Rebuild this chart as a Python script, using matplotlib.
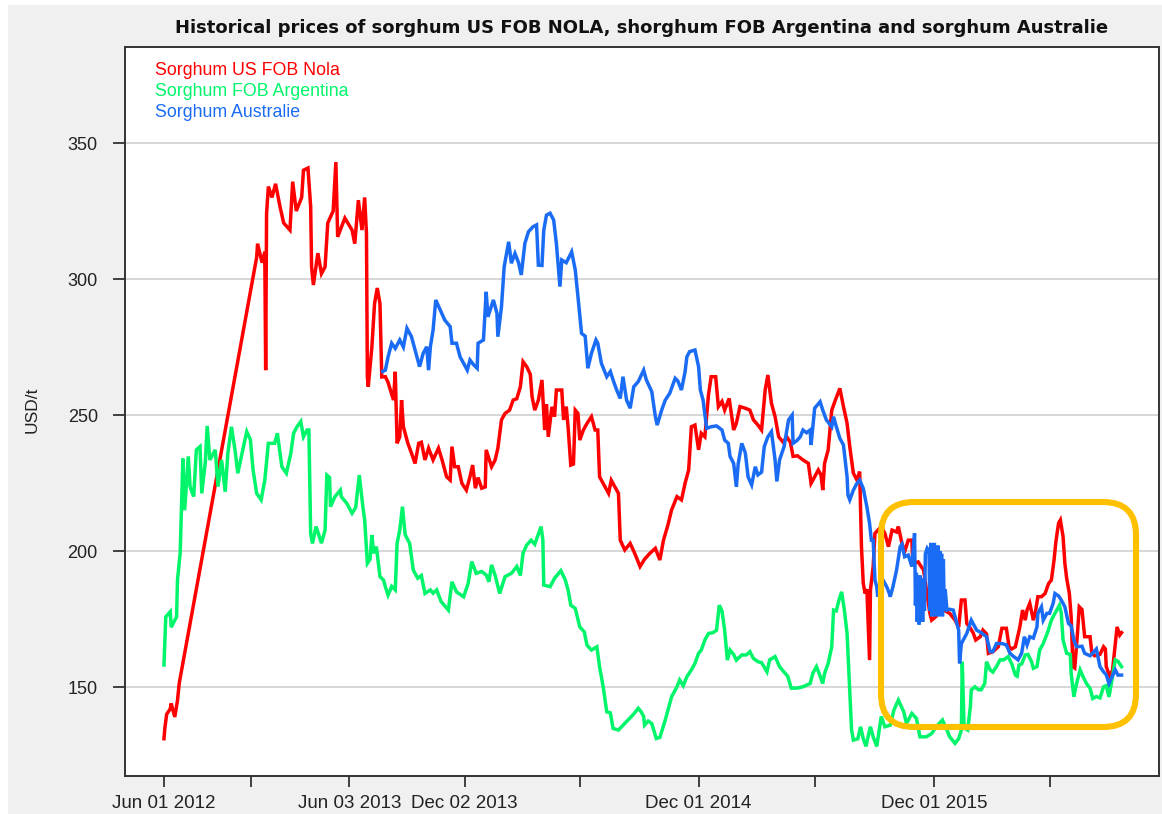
import matplotlib
matplotlib.use('Agg')
import matplotlib.pyplot as plt
from matplotlib.patches import FancyBboxPatch, Rectangle
from matplotlib.transforms import IdentityTransform

# x is the observation number of the series (xts style index axis), y in USD/t
red_points = [
    (0, 131), (1, 135), (3, 140), (7, 142), (8, 144), (12, 139), (15, 145), (17, 151.5),
    (103, 308), (104, 313), (109, 306), (112, 310), (113, 266.5), (114, 324), (116, 334),
    (120, 330), (124, 335), (129, 326.5), (133, 320.6), (140, 318), (143, 335.8), (147, 325),
    (153, 330), (155, 340), (160, 340.8), (163, 326.6), (164, 304.5), (166, 297.8), (171, 309.5),
    (175, 302), (179, 304.5), (182, 320.6), (188, 325), (191, 343), (193, 315.5), (197, 319),
    (201, 322.4), (209, 318), (212, 313), (216, 329), (220, 318), (223, 330), (225, 316.8),
    (226, 264), (227, 260.4), (231, 275), (234, 291), (237, 296.7), (240, 291), (242, 264),
    (246, 264.1), (249, 262), (255, 255.5), (257, 265.9), (259, 239.6), (262, 242), (264, 255.5),
    (266, 245.7), (271, 239.6), (275, 236), (279, 232.2), (283, 239.6), (286, 240), (290, 233.5),
    (294, 237.8), (299, 233.5), (305, 237.8), (309, 233.5), (314, 227.3), (318, 226.1),
    (320, 238.4), (323, 231), (327, 231), (331, 224.9), (336, 222.4), (340, 227.3), (343, 231.6),
    (346, 223.1), (349, 227), (353, 223.1), (357, 223.6), (358, 237.2), (364, 231), (368, 233.5),
    (371, 237.8), (375, 248.2), (379, 250.6), (384, 251.8), (388, 255.5), (392, 256), (396, 260.4),
    (399, 269.6), (403, 267.8), (407, 265), (409, 256.7), (412, 251.8), (416, 255.5), (420, 262.9),
    (423, 244.5), (425, 254), (427, 242), (431, 253), (434, 249.4), (436, 259.2), (442, 259.2),
    (444, 248.2), (447, 253.1), (449, 245.7), (452, 231.6), (455, 232), (457, 251.8), (460, 250.6),
    (462, 240.8), (466, 244.5), (470, 246.9), (475, 249.4), (479, 244.5), (482, 244.5),
    (484, 227.3), (490, 223.6), (494, 221.2), (497, 226), (501, 223.6), (505, 221.2), (507, 204),
    (512, 200.4), (518, 202.8), (523, 199.2), (529, 194.3), (534, 197), (540, 199.2), (546, 201),
    (551, 196.7), (555, 204), (560, 209.6), (564, 215.1), (570, 220), (575, 218.8), (579, 224.9),
    (583, 229.8), (586, 245.7), (590, 246.3), (594, 237.2), (597, 243.3), (601, 242), (605, 257.4),
    (608, 264.1), (613, 264.1), (616, 253.1), (620, 255), (623, 251.8), (628, 256.1), (633, 244.5),
    (636, 247), (640, 253.1), (646, 252.5), (651, 251.8), (655, 248.2), (660, 246.3), (664, 244.5),
    (668, 259.2), (671, 264.7), (675, 254.3), (679, 249.4), (683, 242), (688, 240), (692, 242),
    (696, 240), (699, 234.8), (704, 235), (710, 233.5), (716, 232.2), (719, 224.9), (723, 227.3),
    (727, 229.8), (730, 228), (732, 222.4), (734, 232.2), (738, 237.2), (742, 251.8), (746, 255.5),
    (751, 259.8), (755, 253.1), (759, 247), (762, 238.4), (766, 228.6), (770, 226.1), (773, 229.2),
    (775, 201.6), (777, 188.1), (779, 184.4), (781, 186), (784, 159.9), (785, 185.7), (788, 194.3),
    (790, 206.5), (797, 209), (801, 206.5), (805, 201.6), (809, 207.7), (814, 207), (816, 209),
    (820, 202.8), (823, 199.8), (827, 204), (831, 204), (832, 195.5), (838, 196), (844, 193),
    (851, 177.1), (853, 174.6), (858, 176), (862, 179.5), (868, 178), (873, 177.1), (879, 174.6),
    (883, 172), (886, 182), (890, 182), (892, 173.4), (896, 171.6), (899, 170), (902, 167.3),
    (907, 168.5), (910, 170.9), (914, 169.5), (916, 162.4), (921, 163), (927, 164.8), (931, 171.6),
    (936, 171.6), (939, 164.8), (942, 164), (946, 164.8), (951, 172.1), (954, 178.3), (957, 174.6),
    (959, 178.3), (962, 180.8), (966, 174.6), (968, 177), (971, 183.2), (975, 183.2), (979, 184.4),
    (983, 188.1), (986, 189.3), (989, 196.7), (991, 203.4), (994, 210.2), (996, 211.4),
    (999, 205.3), (1001, 195.5), (1003, 190), (1006, 184.4), (1008, 175.8), (1010, 157.5),
    (1012, 157), (1015, 169.7), (1017, 179.5), (1020, 178.5), (1023, 168.5), (1029, 168.5),
    (1031, 162.4), (1034, 161.5), (1040, 162), (1044, 164.8), (1046, 164), (1047, 157.5),
    (1051, 153.8), (1054, 156.3), (1057, 166), (1059, 172.1), (1062, 169.1), (1064, 170),
]

green_points = [
    (0, 158.1), (1, 167.3), (2, 175.8), (7, 177.7), (8, 172), (14, 175.8), (15, 189.3), (18, 199.3),
    (21, 234), (23, 215), (27, 234.8), (29, 223.7), (33, 220), (36, 237.2), (40, 238.4), (42, 221.2),
    (46, 232.8), (48, 246), (51, 233.5), (57, 237.2), (60, 223.7), (64, 233.5), (68, 221.8),
    (71, 236), (75, 245.7), (79, 237), (82, 228.6), (86, 234.8), (92, 243.9), (96, 241),
    (99, 229.8), (103, 221.2), (108, 218.8), (112, 226), (116, 239.6), (123, 239.6), (126, 243.3),
    (131, 231), (136, 228.6), (141, 236), (144, 243.3), (148, 245.8), (152, 247.6), (155, 242),
    (159, 244.5), (161, 244.5), (163, 206.5), (165, 202.8), (169, 209), (175, 202.9), (179, 207.7),
    (181, 227.9), (184, 227), (185, 216.3), (190, 220), (196, 222.4), (197, 220), (203, 217.6),
    (209, 213.9), (213, 216), (217, 227.9), (221, 216.3), (223, 211.4), (226, 195.5), (229, 197),
    (231, 205.9), (233, 199.2), (236, 201.6), (240, 190.6), (244, 189.3), (246, 186.9),
    (249, 183.8), (253, 187), (257, 185.7), (259, 202.8), (262, 207.7), (265, 216.3), (268, 206),
    (273, 202.8), (277, 193), (282, 190), (286, 191), (290, 184.4), (296, 185.7), (299, 184.5),
    (303, 185.7), (308, 181.4), (316, 178.3), (320, 188.7), (325, 185), (333, 183.2), (338, 188.1),
    (342, 196.1), (347, 191.8), (353, 192.5), (358, 191.2), (361, 188.7), (364, 194.9), (368, 191),
    (373, 184.4), (379, 190.6), (386, 191.8), (392, 194.3), (396, 191), (399, 199.2), (403, 202.2),
    (408, 204), (412, 202.5), (419, 209), (421, 204), (422, 187.5), (429, 186.9), (434, 190),
    (441, 192.8), (446, 189.3), (449, 185.7), (452, 180.1), (457, 178.9), (462, 172.1),
    (467, 170.3), (470, 165.4), (475, 163.6), (481, 164.8), (484, 157.5), (488, 150.1),
    (492, 140.9), (496, 140.5), (499, 134.8), (505, 134.2), (514, 137.3), (522, 140.1),
    (527, 142.2), (530, 141), (533, 139.2), (534, 136), (538, 137.5), (542, 136.6), (547, 131.1),
    (551, 131.5), (557, 137.9), (560, 141.5), (564, 146.4), (570, 150.1), (573, 152.6),
    (577, 150.5), (581, 153.8), (586, 156.3), (590, 158.7), (594, 162.4), (597, 163.6),
    (601, 167.3), (605, 169.7), (610, 170), (614, 170.9), (617, 180.1), (620, 178), (623, 170.9),
    (626, 159.9), (629, 163.6), (633, 162), (636, 159.9), (642, 161.8), (647, 161.8), (651, 163),
    (655, 160.5), (660, 159.3), (664, 159), (670, 155.6), (673, 160), (679, 161.2), (684, 157.5),
    (690, 155.1), (693, 154), (697, 149.6), (703, 149.6), (710, 150.1), (718, 151.3), (721, 155.1),
    (725, 157.5), (728, 155), (732, 151.3), (734, 155), (738, 158.7), (742, 164.8), (744, 178.3),
    (747, 178), (750, 182), (753, 185), (756, 178.3), (759, 169.7), (762, 148.9), (764, 134.2),
    (766, 130.5), (771, 131), (774, 135.4), (777, 131), (780, 128.2), (784, 134.2), (785, 135.4),
    (788, 131.7), (792, 128.2), (797, 139.2), (801, 135.4), (807, 136), (811, 141.5), (816, 145.2),
    (822, 140.9), (825, 136.6), (831, 140.3), (836, 138.5), (840, 131.7), (847, 131.7),
    (853, 132.9), (858, 135.4), (865, 137.9), (870, 134.2), (873, 131.7), (879, 129.3), (883, 131),
    (886, 134.2), (887, 159.3), (889, 135), (893, 134.2), (896, 142.8), (897, 148.9), (901, 150.1),
    (905, 149), (908, 149), (912, 151.3), (914, 159.3), (918, 156.3), (921, 155.5), (925, 157.5),
    (929, 160), (933, 160), (938, 161.2), (942, 158.5), (946, 154.4), (948, 154), (950, 158.1),
    (953, 158.5), (957, 161.8), (960, 162), (964, 159.3), (966, 156.9), (970, 157.5), (973, 163.6),
    (977, 166), (982, 170.3), (986, 174.6), (990, 177.1), (995, 180.1), (997, 177.1), (999, 167.3),
    (1003, 162.4), (1007, 162), (1008, 155.1), (1011, 146.4), (1014, 151.3), (1018, 156.3),
    (1021, 154), (1025, 151.3), (1029, 149.5), (1032, 145.8), (1036, 146.5), (1040, 146),
    (1044, 150.1), (1047, 150.5), (1050, 146.4), (1053, 152), (1057, 160), (1060, 159.5),
    (1064, 157.5),
]

blue_points = [
    (243, 266), (246, 266.5), (249, 271.4), (253, 276.4), (257, 274.5), (262, 277.6), (266, 275),
    (270, 281.9), (275, 278.8), (279, 273.9), (284, 267.8), (288, 272.7), (292, 275.1),
    (294, 266.5), (296, 275.1), (299, 281.2), (302, 292.3), (307, 288.6), (312, 284.9),
    (318, 282.5), (320, 276.4), (325, 276.4), (329, 271.4), (333, 269), (337, 266.5), (340, 270.2),
    (344, 268.5), (348, 267.2), (349, 276.4), (355, 277.6), (358, 295.3), (360, 286.1),
    (366, 292.3), (370, 287.4), (371, 278.8), (375, 289.8), (378, 304.5), (383, 313.7),
    (386, 305.8), (390, 309.4), (394, 306), (397, 301.5), (401, 313.1), (405, 317.4), (410, 319.2),
    (414, 319.9), (416, 305.1), (420, 305), (422, 318), (425, 323.5), (429, 324.2), (433, 321.7),
    (436, 313.1), (440, 297.2), (442, 307), (447, 306), (453, 310), (457, 303.3), (460, 293.5),
    (464, 280), (468, 279), (471, 267.2), (475, 272.7), (480, 277.6), (482, 276.4), (486, 269),
    (492, 264.1), (496, 266), (499, 262.9), (503, 259.2), (507, 256.1), (510, 264.1), (514, 255.5),
    (518, 252.5), (522, 260.4), (527, 262.3), (533, 266.5), (536, 262.9), (542, 258.6),
    (546, 249.4), (548, 246.3), (553, 251.8), (557, 255.5), (562, 258), (568, 263.5), (571, 262.5),
    (575, 259.2), (579, 265.9), (581, 271.4), (584, 273.3), (590, 273.9), (594, 267.8),
    (596, 259.2), (599, 255.5), (603, 245.1), (608, 245.7), (614, 246), (620, 244.5), (623, 240.8),
    (627, 239.6), (629, 234.8), (633, 232.2), (636, 223.6), (638, 232), (642, 239.6), (646, 236),
    (649, 227.3), (653, 224.3), (657, 231), (660, 228), (664, 229), (667, 238.4), (671, 242),
    (675, 243.9), (679, 233.5), (681, 225.6), (684, 233.5), (689, 238.4), (694, 248.2), (698, 250),
    (699, 239.6), (703, 240.5), (707, 242), (710, 244.5), (714, 243.5), (718, 244.5), (719, 239),
    (723, 252.5), (729, 254.9), (732, 251.8), (736, 248.2), (742, 245.7), (744, 249.4),
    (747, 245.8), (751, 241.4), (755, 239), (759, 227.3), (760, 220.6), (762, 218.8), (766, 222.4),
    (770, 224.9), (773, 226.1), (777, 223), (781, 216.3), (784, 210.2), (786, 204), (788, 204),
    (790, 189.3), (792, 186.9), (793, 183.2), (797, 190.6), (799, 189.3), (803, 186.9),
    (806, 184.4), (807, 183.2), (810, 186.9), (814, 193), (818, 201.6), (820, 202.5), (823, 197.9),
    (827, 198.5), (831, 194.3), (834, 206.5),
    (835, 180), (836, 192), (837, 174), (838, 190), (839, 173), (840, 191), (841, 175), (842, 189),
    (843, 174), (844, 190), (845, 178), (846, 199), (848, 201), (850, 200), (851, 178), (852, 203),
    (853, 176), (854, 202), (855, 177), (856, 203), (857, 176), (858, 201), (859, 178), (860, 202),
    (861, 176), (862, 200), (863, 177), (864, 199), (865, 176), (866, 197), (867, 178), (868, 186),
    (870, 178.3), (873, 178.6), (877, 178.3), (881, 173.4), (883, 170.9), (884, 158.7), (886, 166),
    (892, 169.7), (897, 174.6), (903, 170.9), (908, 170), (914, 168.5), (918, 163), (921, 163),
    (925, 166), (931, 166), (936, 165.5), (940, 162.4), (943, 161.5), (949, 160), (953, 162.5),
    (956, 168.5), (959, 165.5), (962, 168.5), (966, 168), (970, 172.1), (971, 177.1), (975, 179.5),
    (977, 174.6), (981, 177.1), (984, 177.1), (988, 180.8), (990, 184.4), (994, 183.5), (997, 182),
    (1001, 179.5), (1005, 173.4), (1008, 172.5), (1011, 167.3), (1014, 164.8), (1020, 165),
    (1023, 162.4), (1029, 161.5), (1032, 162.5), (1036, 164), (1040, 157.5), (1044, 155.6),
    (1047, 154.5), (1050, 151.3), (1053, 153.5), (1057, 156.3), (1060, 154.4), (1064, 154.4),
]

series_names = ['Sorghum US FOB Nola', 'Sorghum FOB Argentina', 'Sorghum Australie']
series_colors = ['#ff0000', '#00f56a', '#1a6cf5']

tick_idx = [0, 97, 206, 334, 462, 594, 723, 856, 984]
tick_labels = ['Jun 01 2012', '', 'Jun 03 2013', 'Dec 02 2013', '', 'Dec 01 2014', '',
               'Dec 01 2015', '']
y_ticks = [150, 200, 250, 300, 350]

title = ('Historical prices of sorghum US FOB NOLA, shorghum FOB Argentina '
         'and sorghum Australie')

W, H = 1162, 814
fig = plt.figure(figsize=(W / 100, H / 100), dpi=100)
fig.patch.set_facecolor('white')
# grey device background, leaving the thin white strip of the screenshot
fig.patches.append(Rectangle((8 / W, 0), 1 - 8 / W, 1 - 5 / H, transform=fig.transFigure,
                             facecolor='#f0f0f0', edgecolor='none', zorder=-10))

ax = fig.add_axes([125 / W, 1 - 776 / H, (1159 - 125) / W, (776 - 47) / H])
ax.set_facecolor('white')

for pts, color in zip([red_points, green_points, blue_points], series_colors):
    xs, ys = zip(*pts)
    ax.plot(xs, ys, color=color, lw=2.5, solid_joinstyle='miter', zorder=3)

ax.set_xlim(-43.3, 1105.6)
ax.set_ylim(117.3, 385.3)

ax.set_yticks(y_ticks)
ax.set_yticklabels([str(v) for v in y_ticks])
ax.set_xticks(tick_idx)
ax.set_xticklabels(tick_labels)
ax.yaxis.grid(True, color='#d0d0d0', lw=1.2)
ax.set_axisbelow(True)

for side in ['left', 'right', 'top', 'bottom']:
    ax.spines[side].set_color('#333333')
    ax.spines[side].set_linewidth(1.4)

ax.tick_params(axis='y', length=8.6, width=1.2, color='#222222', pad=11,
               labelsize=13, labelfontfamily='Liberation Sans', labelcolor='#222222')
ax.tick_params(axis='x', length=8, width=1.2, color='#222222', pad=6,
               labelsize=13.5, labelfontfamily='Liberation Sans', labelcolor='#222222')

fig.text(642 / W, 1 - 28 / H, title, ha='center', va='center', fontsize=13,
         fontweight='bold', family='DejaVu Sans', color='#111111')
fig.text(32 / W, 1 - 410 / H, 'USD/t', rotation=90, ha='center', va='center',
         fontsize=12.5, family='Liberation Sans', color='#222222')

legend_y = [0.9684, 0.9396, 0.9095]
for name, color, ly in zip(series_names, series_colors, legend_y):
    ax.text(0.029, ly, name, transform=ax.transAxes, color=color, fontsize=12.8,
            family='Liberation Sans', ha='left', va='center')

# orange highlight drawn over the late period (display pixel coordinates)
box = FancyBboxPatch((881, H - 727), 255, 225, boxstyle='round,pad=0,rounding_size=33',
                     transform=IdentityTransform(), fill=False, edgecolor='#ffc000',
                     lw=4.4, zorder=5, clip_on=False)
fig.patches.append(box)

fig.savefig('out.png', dpi=100, facecolor=fig.get_facecolor())
